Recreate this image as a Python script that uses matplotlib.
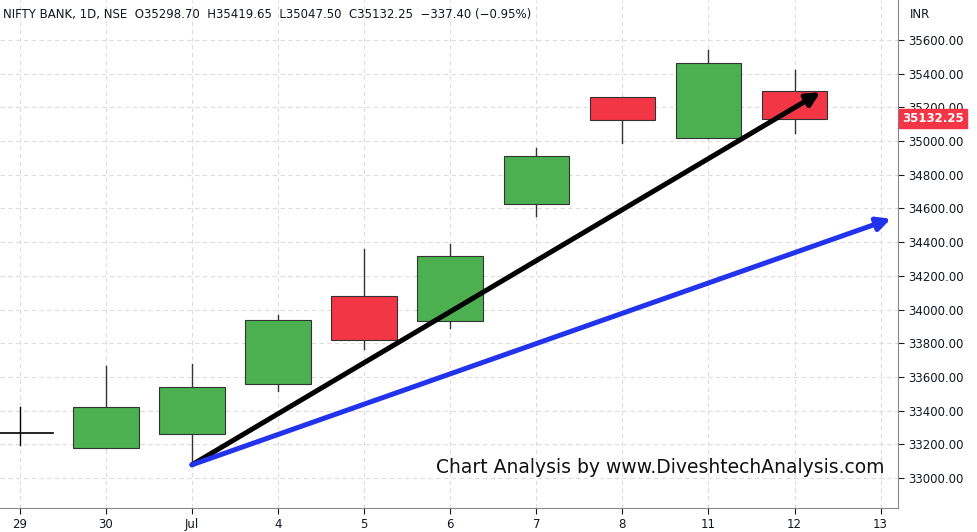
import matplotlib
matplotlib.use("Agg")
import matplotlib.pyplot as plt
from matplotlib.patches import FancyArrowPatch

labels = ["29", "30", "Jul", "4", "5", "6", "7", "8", "11", "12", "13"]
opens  = [33268, 33179, 33262, 33560, 34079, 33930, 34628, 35260, 35016, 35298.70]
highs  = [33423, 33662, 33674, 33966, 34360, 34390, 34962, 35260, 35540, 35419.65]
lows   = [33197, 33179, 33078, 33519, 33763, 33889, 34556, 34986, 35016, 35047.50]
closes = [33268, 33423, 33537, 33936, 33817, 34318, 34914, 35123, 35463, 35132.25]
yticks = [33000, 33200, 33400, 33600, 33800, 34000, 34200, 34400, 34600, 34800,
          35000, 35200, 35400, 35600]
black_arrow = [(2, 33078), (9.3, 35290)]
blue_arrow = [(2, 33078), (10.12, 34539)]

fig = plt.figure(figsize=(9.78, 5.32), dpi=100)
ax = fig.add_axes([0, 0.045, 0.918, 0.955])
green, red = "#4caf50", "#f23645"
w = 0.76
for i, (o, h, l, c) in enumerate(zip(opens, highs, lows, closes)):
    if o == c:
        ax.plot([i, i], [l, h], color="black", lw=1, zorder=2)
        ax.plot([i - w/2, i + w/2], [o, o], color="black", lw=1.2, zorder=2)
        continue
    col = green if c > o else red
    ax.plot([i, i], [l, h], color="#333333", lw=1, zorder=2)
    ax.bar(i, abs(c - o), bottom=min(o, c), width=w, color=col,
           edgecolor="#333333", lw=0.8, zorder=3)

for pts, col in [(black_arrow, "black"), (blue_arrow, "#2233ee")]:
    ax.add_patch(FancyArrowPatch(pts[0], pts[1], arrowstyle="-|>,head_length=8,head_width=4",
                                 color=col, lw=3.6, zorder=5, shrinkA=0, shrinkB=0))

ax.set_xlim(-0.23, 10.2)
ax.set_ylim(32821, 35838)
ax.set_xticks(range(len(labels)))
ax.set_xticklabels(labels)
ax.yaxis.tick_right()
ax.set_yticks(yticks)
ax.set_yticklabels([f"{v:.2f}" for v in yticks])
ax.tick_params(labelsize=8.5, colors="#131722", length=4)
ax.grid(True, ls=(0, (4, 3)), color="#dddddd", lw=0.8)
for s in ["top", "left"]:
    ax.spines[s].set_visible(False)
ax.spines["right"].set_color("#888888")
ax.spines["bottom"].set_color("#888888")

ax.text(0.003, 0.985, "NIFTY BANK, 1D, NSE  O35298.70  H35419.65  L35047.50  C35132.25  \u2212337.40 (\u22120.95%)",
        transform=ax.transAxes, fontsize=8.5, va="top", color="#131722")
fig.text(0.93, 0.985, "INR", fontsize=8.5, va="top", color="#131722")
ax.text(10.05, 33060, "Chart Analysis by www.DiveshtechAnalysis.com", fontsize=13.5,
        ha="right", va="center", color="#111111")
ax.text(1.005, 35132.25, "35132.25", transform=ax.get_yaxis_transform(), fontsize=8.5,
        va="center", ha="left", color="white", fontweight="bold", zorder=10,
        bbox=dict(boxstyle="square,pad=0.25", fc=red, ec=red))
fig.savefig("out.png", dpi=100)
